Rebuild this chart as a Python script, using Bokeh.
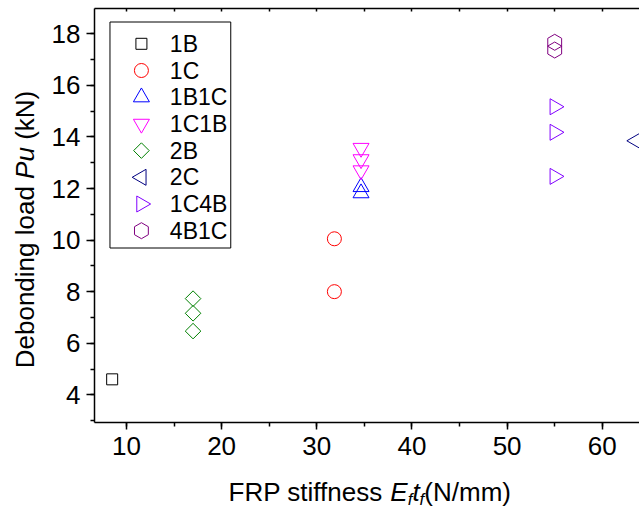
import math
from bokeh.plotting import figure
from bokeh.models import Range1d, LinearAxis, SingleIntervalTicker, FixedTicker
from bokeh.core.properties import value
from bokeh.layouts import row, column
from bokeh.embed import file_html
from bokeh.resources import INLINE

# ---------------- data ----------------
labels = ["1B", "1C", "1B1C", "1C1B", "2B", "2C", "1C4B", "4B1C"]

x_1B = [8.5]
y_1B = [4.6]
x_1C = [31.85, 31.85]
y_1C = [10.05, 8.0]
x_1B1C = [34.65, 34.65]
y_1B1C = [12.06, 11.82]
x_1C1B = [34.65, 34.65, 34.65]
y_1C1B = [13.57, 13.13, 12.70]
x_2B = [17.0, 17.0, 17.0]
y_2B = [7.73, 7.16, 6.47]
x_2C = [63.55]
y_2C = [13.85]
x_1C4B = [55.0, 55.0, 55.0]
y_1C4B = [15.17, 14.18, 12.47]
x_4B1C = [55.0, 55.0]
y_4B1C = [17.67, 17.37]

x_tick_interval = 10
y_tick_interval = 2
x_title = ["FRP stiffness ", "E", "f", "t", "f", "(N/mm)"]
y_title = ["Debonding load", "Pu", "(kN)"]

# ---------------- layout constants (page pixels) ----------------
FONT = "Liberation Sans"
PAGE_W, PAGE_H = 639, 508
YT_W = 48                 # width of the y-title strip
MAIN_H = 470              # height of the main figure
XT_H = PAGE_H - MAIN_H    # height of the x-title strip
FR_L, FR_R, FR_T, FR_B = 93, 639, 8, 422   # frame in page pixels
X0, X1 = 6.644, 63.91
Y0, Y1 = 2.926, 18.98

p = figure(width=PAGE_W - YT_W, height=MAIN_H, output_backend="svg",
           toolbar_location=None,
           x_range=Range1d(X0, X1), y_range=Range1d(Y0, Y1),
           x_axis_type=None, y_axis_type=None,
           min_border_left=FR_L - YT_W, min_border_right=0,
           min_border_top=FR_T, min_border_bottom=MAIN_H - FR_B)
p.outline_line_color = None
p.background_fill_color = "white"
p.border_fill_color = "white"


def px2x(px):
    return X0 + (px - FR_L) * (X1 - X0) / (FR_R - FR_L)


def py2y(py):
    return Y1 - (py - FR_T) * (Y1 - Y0) / (FR_B - FR_T)


def style_axis(ax, tick_out, minor_out, tick_in=0, minor_in=0, standoff=5):
    ax.axis_line_color = "black"
    ax.axis_line_width = 1.5
    ax.major_tick_line_color = "black"
    ax.minor_tick_line_color = "black"
    ax.major_tick_line_width = 1.5
    ax.minor_tick_line_width = 1.5
    ax.major_tick_out = tick_out
    ax.major_tick_in = tick_in
    ax.minor_tick_out = minor_out
    ax.minor_tick_in = minor_in
    ax.major_label_text_font = FONT
    ax.major_label_text_color = "black"
    ax.major_label_standoff = standoff
    ax.major_label_text_font_size = "26px"


xb = LinearAxis(ticker=SingleIntervalTicker(interval=x_tick_interval, num_minor_ticks=2))
style_axis(xb, 7, 4, standoff=7)
p.add_layout(xb, "below")

yl = LinearAxis(ticker=SingleIntervalTicker(interval=y_tick_interval, num_minor_ticks=2))
style_axis(yl, 8, 4, standoff=6)
p.add_layout(yl, "left")

# top border: axis line with small inward ticks only (no labels)
top_ticks = [float(v) for v in range(0, 70, x_tick_interval // 2)]
xt = LinearAxis(ticker=FixedTicker(ticks=[], minor_ticks=top_ticks))
style_axis(xt, 0, 0, tick_in=0, minor_in=3, standoff=0)
p.add_layout(xt, "above")

series = [
    (x_1B, y_1B, "square", 11, 0.0, "#000000"),
    (x_1C, y_1C, "circle", 14, 0.0, "#FF0000"),
    (x_1B1C, y_1B1C, "triangle", 16, 0.0, "#0000FF"),
    (x_1C1B, y_1C1B, "inverted_triangle", 16, 0.0, "#FF00FF"),
    (x_2B, y_2B, "square", 11, math.pi / 4, "#008000"),
    (x_2C, y_2C, "triangle", 16, math.pi / 2, "#000080"),
    (x_1C4B, y_1C4B, "triangle", 16, -math.pi / 2, "#8000FF"),
    (x_4B1C, y_4B1C, "hex", 16, math.pi / 2, "#800080"),
]

# ---------------- legend box (drawn by hand so markers keep their shape) ----------------
LG_L, LG_T, LG_R, LG_B = 108.5, 21.5, 229.5, 247.5
LG_Y0, LG_DY = 43.3, 26.7
LG_MX, LG_TX = 140, 168.5

p.quad(left=[px2x(LG_L)], right=[px2x(LG_R)], top=[py2y(LG_T)], bottom=[py2y(LG_B)],
       fill_color="white", line_color="black", line_width=1)

for i, (xs, ys, marker, size, ang, col) in enumerate(series):
    p.scatter(xs, ys, marker=marker, size=size, angle=ang,
              fill_color=None, line_color=col, line_width=1)
    p.scatter([px2x(LG_MX)], [py2y(LG_Y0 + i * LG_DY)], marker=marker, size=size,
              angle=ang, fill_color=None, line_color=col, line_width=1)

p.text(x=[px2x(LG_TX)] * len(labels),
       y=[py2y(LG_Y0 + i * LG_DY) for i in range(len(labels))],
       text=labels, text_font=value(FONT), text_font_size=value("23px"),
       text_color="black", text_align="left", text_baseline="middle")

# ---------------- axis titles with mixed styles ----------------
ARIAL = {' ': 278, '(': 333, ')': 333, '/': 278, 'D': 722, 'e': 556, 'b': 556,
         'o': 556, 'n': 556, 'd': 556, 'i': 222, 'g': 556, 'l': 222, 'a': 556,
         'P': 667, 'u': 556, 'k': 500, 'N': 722, 'F': 611, 'R': 722, 's': 500,
         't': 278, 'f': 278, 'E': 667, 'm': 833}


def tw(s, fs):
    return sum(ARIAL[c] for c in s) * fs / 1000.0


def strip(width, height, top=0, bottom=0):
    # data coordinates = page pixels measured upward from the strip's bottom edge
    f = figure(width=width, height=height, output_backend="svg", toolbar_location=None,
               x_range=Range1d(0, width), y_range=Range1d(bottom, height - top),
               x_axis_type=None, y_axis_type=None,
               min_border=0, min_border_left=0, min_border_right=0,
               min_border_top=top, min_border_bottom=bottom)
    f.outline_line_color = None
    f.background_fill_color = "white"
    f.border_fill_color = "white"
    return f


# y title (rotated, reads upward); its frame matches the main frame vertically
yt = strip(YT_W, MAIN_H, top=FR_T, bottom=MAIN_H - FR_B)
y_styles = ["normal", "italic", "normal"]
Y_FS = 26
SPACE = tw(" ", Y_FS)
y_total = sum(tw(t, Y_FS) for t in y_title) + SPACE * (len(y_title) - 1)
page_y = 229 + y_total / 2          # page y of the start (bottom) of the title
Y_MID_X = 24.5                      # page x of the text's vertical middle
for t, st in zip(y_title, y_styles):
    w = tw(t, Y_FS)
    centre = page_y - w / 2
    yt.text(x=[Y_MID_X], y=[MAIN_H - centre], text=[t], angle=math.pi / 2,
            text_font=value(FONT), text_font_size=value(f"{Y_FS}px"),
            text_font_style=value(st), text_color="black",
            text_align="center", text_baseline="middle")
    page_y -= w + SPACE

# x title; page coords -> strip coords: y = XT_H - (page_y - MAIN_H)
xtf = strip(PAGE_W, XT_H)
x_styles = ["normal", "italic", "italic", "italic", "italic", "normal"]
x_sizes = [26, 26, 17, 26, 17, 26]
x_drop = [0, 0, 8, 0, 8, 0]
cx = 228
for t, st, fs, dy in zip(x_title, x_styles, x_sizes, x_drop):
    xtf.text(x=[cx], y=[XT_H - (491 + dy - MAIN_H)], text=[t],
             text_font=value(FONT), text_font_size=value(f"{fs}px"),
             text_font_style=value(st), text_color="black",
             text_align="left", text_baseline="alphabetic")
    cx += tw(t, fs)

layout = column(row(yt, p, spacing=0), xtf, spacing=0)
open("out.html", "w").write(file_html(layout, INLINE))
